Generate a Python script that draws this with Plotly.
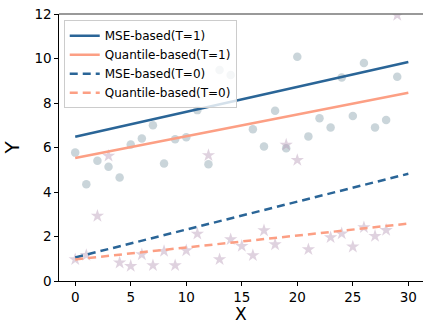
import plotly.graph_objects as go

x_pts = list(range(30))
y_t1 = [5.77, 4.35, 5.40, 5.13, 4.65, 6.13, 6.40, 7.00, 5.28, 6.37,
        6.46, 7.68, 5.25, 9.48, 9.26, None, 6.82, 6.05, 7.65, 5.97,
        10.08, 6.50, 7.31, 6.90, 9.15, 7.42, 9.80, 6.90, 7.24, 9.18]
y_t0 = [0.97, 1.16, 2.92, 5.62, 0.82, 0.67, 1.19, 0.70, 1.34, 0.70,
        1.37, 2.12, 5.65, 0.97, 1.87, 1.57, 1.15, 2.27, 1.64, 6.12,
        5.43, 1.42, None, 1.96, 2.13, 1.54, 2.41, 2.02, 2.29, 11.95]

line_x = [0, 30]
mse_t1 = [6.48, 9.84]
q_t1 = [5.53, 8.46]
mse_t0 = [1.06, 4.82]
q_t0 = [0.97, 2.58]

MSE_C = "#2a6597"
Q_C = "#fc9f84"
FONT = "DejaVu Sans"

fig = go.Figure()
fig.add_trace(go.Scatter(x=x_pts, y=y_t1, mode="markers", showlegend=False,
                         marker=dict(symbol="circle", size=8.5, color="rgba(150,172,182,0.5)",
                                     line=dict(width=0))))
fig.add_trace(go.Scatter(x=x_pts, y=y_t0, mode="markers", showlegend=False,
                         marker=dict(symbol="star", size=10, color="rgba(185,155,185,0.45)",
                                     line=dict(width=0))))
fig.add_trace(go.Scatter(x=line_x, y=mse_t1, mode="lines", name="MSE-based(T=1)",
                         line=dict(color=MSE_C, width=2.5)))
fig.add_trace(go.Scatter(x=line_x, y=q_t1, mode="lines", name="Quantile-based(T=1)",
                         line=dict(color=Q_C, width=2.5)))
fig.add_trace(go.Scatter(x=line_x, y=mse_t0, mode="lines", name="MSE-based(T=0)",
                         line=dict(color=MSE_C, width=2.5, dash="8px,5px")))
fig.add_trace(go.Scatter(x=line_x, y=q_t0, mode="lines", name="Quantile-based(T=0)",
                         line=dict(color=Q_C, width=2.5, dash="8px,5px")))

axis_common = dict(showgrid=False, zeroline=False, showline=True, linecolor="black",
                   linewidth=1.2, ticks="outside", ticklen=3.5, tickwidth=1.2,
                   tickcolor="black", tickfont=dict(family=FONT, size=13.5, color="black"))

fig.update_layout(
    width=423, height=323,
    margin=dict(l=58.5, r=0, t=13.5, b=41.5),
    plot_bgcolor="white", paper_bgcolor="white",
    font=dict(family=FONT, color="black"),
    xaxis=dict(range=[-1.46, 31.32], tickvals=[0, 5, 10, 15, 20, 25, 30],
               **axis_common),
    yaxis=dict(range=[0, 12], tickvals=[0, 2, 4, 6, 8, 10, 12],
               title=dict(text="Y", font=dict(family=FONT, size=20), standoff=10),
               **axis_common),
    annotations=[dict(text="X", xref="paper", yref="paper", x=0.5, y=-0.17,
                      xanchor="center", yanchor="bottom", showarrow=False,
                      font=dict(family=FONT, size=17, color="black"))],
    legend=dict(x=0.013, y=0.977, xanchor="left", yanchor="top",
                bgcolor="rgba(255,255,255,0.8)", bordercolor="#cccccc", borderwidth=1,
                font=dict(family=FONT, size=12), tracegroupgap=0,
                itemwidth=30),
    shapes=[dict(type="line", xref="paper", yref="paper", x0=0, x1=1, y0=1, y1=1,
                 line=dict(color="#777777", width=1.5))],
)

fig.write_html("out.html")
